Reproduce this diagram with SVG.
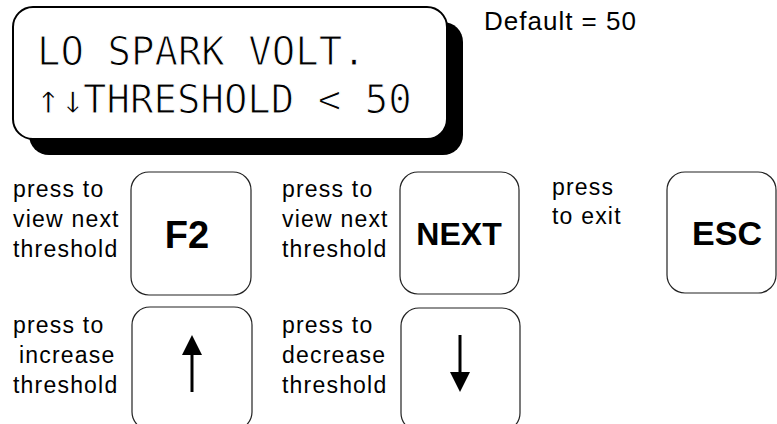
<svg xmlns="http://www.w3.org/2000/svg" width="777" height="424" viewBox="0 0 777 424">
<style>
.key{fill:#fff;stroke:#222;stroke-width:1.2}
.lbl{font-family:"Liberation Sans",Arial,sans-serif;font-size:23px;letter-spacing:1.2px;fill:#000}
.kt{font-family:"Liberation Sans",Arial,sans-serif;font-weight:bold;fill:#000;text-anchor:middle}
.lcd{font-family:"DejaVu Sans Mono","Liberation Mono",monospace;font-size:39px;fill:#000;stroke:#fff;stroke-width:1.1}
</style>
<rect width="777" height="424" fill="#fff"/>
<g id="display">
<rect x="29" y="22" width="434" height="133" rx="20" fill="#000"/>
<rect x="13" y="7" width="434" height="132" rx="20" fill="#fff" stroke="#000" stroke-width="2"/>
<text class="lcd" x="37" y="65">LO SPARK VOLT.</text>
<text class="lcd" x="36" y="113"><tspan font-size="40.5">↑↓</tspan><tspan x="83">THRESHOLD &lt; 50</tspan></text>
</g>
<g id="default-note">
<text x="484" y="30" font-family="Liberation Sans,Arial,sans-serif" font-size="26" letter-spacing="1">Default = 50</text>
</g>
<g id="key-f2">
<rect class="key" x="131" y="172" width="120" height="123" rx="18"/>
<text class="kt" x="187" y="248" font-size="38">F2</text>
</g>
<g id="label-f2">
<text class="lbl" x="13" y="197">press to</text>
<text class="lbl" x="13" y="227">view next</text>
<text class="lbl" x="13" y="257">threshold</text>
</g>
<g id="key-next">
<rect class="key" x="400" y="172" width="119" height="122" rx="18"/>
<text class="kt" x="459" y="245" font-size="32">NEXT</text>
</g>
<g id="label-next">
<text class="lbl" x="282" y="197">press to</text>
<text class="lbl" x="282" y="227">view next</text>
<text class="lbl" x="282" y="257">threshold</text>
</g>
<g id="key-esc">
<rect class="key" x="667" y="172" width="109" height="121" rx="18"/>
<text class="kt" x="727" y="245" font-size="34">ESC</text>
</g>
<g id="label-esc">
<text class="lbl" x="552" y="195">press</text>
<text class="lbl" x="552" y="224">to exit</text>
</g>
<g id="key-up">
<rect class="key" x="132" y="307" width="120" height="123" rx="18"/>
<line x1="192" y1="392" x2="192" y2="350" stroke="#000" stroke-width="3"/>
<polygon points="192,335 182,355 202,355" fill="#000"/>
</g>
<g id="label-up">
<text class="lbl" x="13" y="333">press to</text>
<text class="lbl" x="19" y="363">increase</text>
<text class="lbl" x="13" y="393">threshold</text>
</g>
<g id="key-down">
<rect class="key" x="401" y="308" width="119" height="123" rx="18"/>
<line x1="460" y1="335" x2="460" y2="376" stroke="#000" stroke-width="3"/>
<polygon points="460,392 450,372 470,372" fill="#000"/>
</g>
<g id="label-down">
<text class="lbl" x="282" y="333">press to</text>
<text class="lbl" x="282" y="363">decrease</text>
<text class="lbl" x="282" y="393">threshold</text>
</g>
<g id="connectors"></g>
</svg>
